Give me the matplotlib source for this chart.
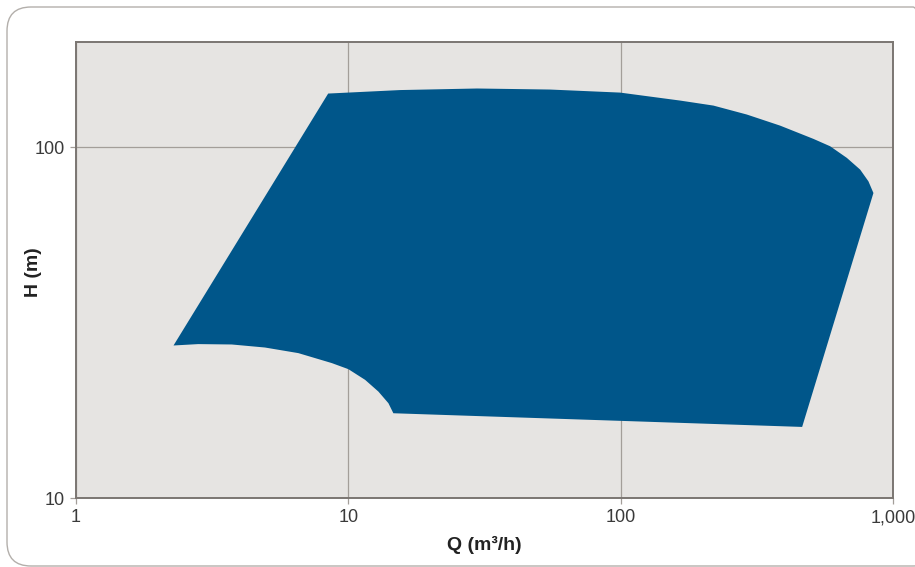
import matplotlib
matplotlib.use("Agg")
import matplotlib.pyplot as plt
from matplotlib.patches import FancyBboxPatch, Polygon
from matplotlib.transforms import IdentityTransform
from matplotlib.ticker import FixedLocator, NullLocator

plt.rcParams['font.family'] = ['Liberation Sans', 'DejaVu Sans']

# operating range outline (Q in m3/h, H in m), clockwise
top_q = [8.43, 15.5, 29.7, 55.0, 99.5, 165.3, 219, 290.5, 384.9, 510, 587.5,
         676.7, 757.3, 812.2, 847.2]
top_h = [142.3, 145.6, 147.1, 146.1, 143.2, 135.9, 131.5, 124.0, 115.3, 105.7,
         100.7, 93.3, 86.4, 80.0, 74.1]
bottom_q = [463.7, 14.63, 14.03, 12.89, 11.52, 10.0, 8.69, 6.55, 4.94, 3.73,
            2.81, 2.28]
bottom_h = [15.97, 17.47, 18.66, 20.14, 21.75, 23.33, 24.28, 25.92, 26.89,
            27.43, 27.50, 27.25]

x_ticks = [1, 10, 100, 1000]
x_labels = ["1", "10", "100", "1,000"]
y_ticks = [10, 100]
y_labels = ["10", "100"]

fig = plt.figure(figsize=(9.15, 5.67), dpi=100)
ax = fig.add_axes([0.0831, 0.1212, 0.8929, 0.8053])

# rounded frame round the whole card
frame = FancyBboxPatch((7, 1), 930, 559, boxstyle="round,pad=0,rounding_size=24",
                       transform=IdentityTransform(), facecolor="none",
                       edgecolor="#b3afab", linewidth=1.0)
fig.patches.append(frame)

ax.set_xscale("log")
ax.set_yscale("log")
ax.set_xlim(1, 1000)
ax.set_ylim(10, 200)
ax.set_facecolor("#e6e4e2")

pts = list(zip(top_q + bottom_q, top_h + bottom_h))
ax.add_patch(Polygon(pts, closed=True, facecolor="#00568a", edgecolor="none", zorder=2))

ax.xaxis.set_major_locator(FixedLocator(x_ticks))
ax.xaxis.set_minor_locator(NullLocator())
ax.yaxis.set_major_locator(FixedLocator(y_ticks))
ax.yaxis.set_minor_locator(NullLocator())
ax.set_xticklabels(x_labels)
ax.set_yticklabels(y_labels)
ax.grid(True, color="#a39e99", linewidth=0.9, zorder=1)
ax.set_axisbelow(True)
ax.tick_params(length=4, width=0.9, color="#a39e99", labelsize=13,
               labelcolor="#3a3a3a", pad=4)

for s in ax.spines.values():
    s.set_color("#7b7672")
    s.set_linewidth(1.4)
    s.set_zorder(3)

ax.set_xlabel("Q (m³/h)", fontsize=14, fontweight="bold", color="#222222")
ax.set_ylabel("H (m)", fontsize=14, fontweight="bold", color="#222222")
ax.xaxis.set_label_coords(0.5, -0.083)
ax.yaxis.set_label_coords(-0.042, 0.495)

plt.savefig("out.png", dpi=100)
